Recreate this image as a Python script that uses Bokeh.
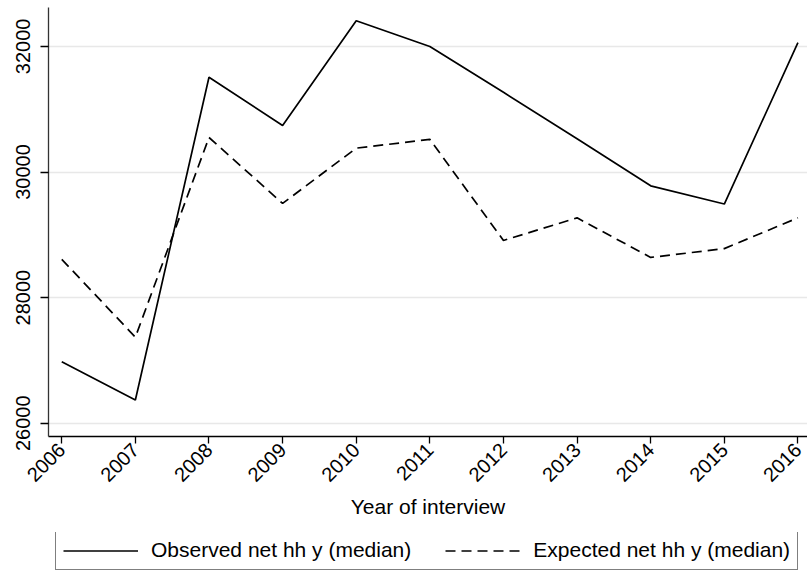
from bokeh.plotting import figure
from bokeh.layouts import column
from bokeh.models import FixedTicker, Legend, LegendItem, Range1d
from bokeh.embed import file_html
from bokeh.resources import INLINE

years = [2006, 2007, 2008, 2009, 2010, 2011, 2012, 2013, 2014, 2015, 2016]
observed = [26980, 26370, 31510, 30740, 32410, 32000, 31270, 30530, 29780, 29490, 32060]
expected = [28610, 27370, 30550, 29500, 30380, 30520, 28910, 29270, 28640, 28780, 29270]
y_ticks = [26000, 28000, 30000, 32000]

FONT = "Liberation Sans"
DASH = "10 6"

p = figure(width=807, height=532,
           x_range=Range1d(2005.82, 2016.13), y_range=Range1d(25788, 32620),
           output_backend="svg", toolbar_location=None,
           min_border_top=7, min_border_right=0, min_border_left=48,
           min_border_bottom=96)
p.outline_line_color = None
p.background_fill_color = "white"
p.border_fill_color = "white"

p.line(years, observed, line_color="black", line_width=1.7)
p.line(years, expected, line_color="black", line_width=1.7, line_dash=DASH)

# x axis
p.xaxis.ticker = FixedTicker(ticks=years)
p.xaxis.major_label_orientation = 0.785398
p.xaxis.axis_label = "Year of interview"
p.xaxis.axis_label_text_font = FONT
p.xaxis.axis_label_text_font_style = "normal"
p.xaxis.axis_label_text_font_size = "21px"
p.xaxis.axis_label_text_color = "black"
p.xaxis.axis_label_standoff = 4
p.xaxis.major_label_text_font = FONT
p.xaxis.major_label_text_font_size = "20px"
p.xaxis.major_label_text_color = "black"
p.xaxis.major_label_standoff = 3
p.xaxis.major_tick_out = 7
p.xaxis.major_tick_in = 0
p.xaxis.minor_tick_line_color = None
p.xaxis.axis_line_color = "black"
p.xaxis.axis_line_width = 1.3
p.xaxis.major_tick_line_width = 1.3

# y axis
p.yaxis.ticker = FixedTicker(ticks=y_ticks)
p.yaxis.major_label_orientation = "vertical"
p.yaxis.major_label_text_font = FONT
p.yaxis.major_label_text_font_size = "20px"
p.yaxis.major_label_text_color = "black"
p.yaxis.major_label_standoff = 10
p.yaxis.major_tick_out = 8
p.yaxis.major_tick_in = 0
p.yaxis.minor_tick_line_color = None
p.yaxis.axis_line_color = "#333333"
p.yaxis.axis_line_width = 1.3
p.yaxis.major_tick_line_width = 1.3
p.yaxis.formatter.use_scientific = False

p.xgrid.grid_line_color = None
p.ygrid.grid_line_color = "#e8e8e8"
p.ygrid.grid_line_width = 1.5

# legend strip under the chart (its frame is aligned with the chart's frame)
q = figure(width=807, height=40, x_range=Range1d(0, 1), y_range=Range1d(0, 1),
           x_axis_type=None, y_axis_type=None,
           output_backend="svg", toolbar_location=None,
           min_border=0)
q.outline_line_color = None
q.xgrid.grid_line_color = None
q.ygrid.grid_line_color = None
# same series, out of this strip's view: only used for the legend swatches
k1 = q.line(years, observed, line_color="black", line_width=1.7)
k2 = q.line(years, expected, line_color="black", line_width=1.7, line_dash=DASH)

legend = Legend(items=[LegendItem(label="Observed net hh y (median)", renderers=[k1]),
                       LegendItem(label="Expected net hh y (median)", renderers=[k2])],
                orientation="horizontal", location=(7, 2))
legend.label_text_font = FONT
legend.label_text_font_size = "21px"
legend.label_text_color = "black"
legend.label_height = 23
legend.glyph_height = 23
legend.glyph_width = 75
legend.label_standoff = 13
legend.spacing = 34
legend.padding = 7
legend.margin = 0
legend.border_line_color = "black"
legend.border_line_width = 1.3
q.add_layout(legend, "center")

open("out.html", "w").write(file_html(column(p, q, spacing=0), INLINE))
